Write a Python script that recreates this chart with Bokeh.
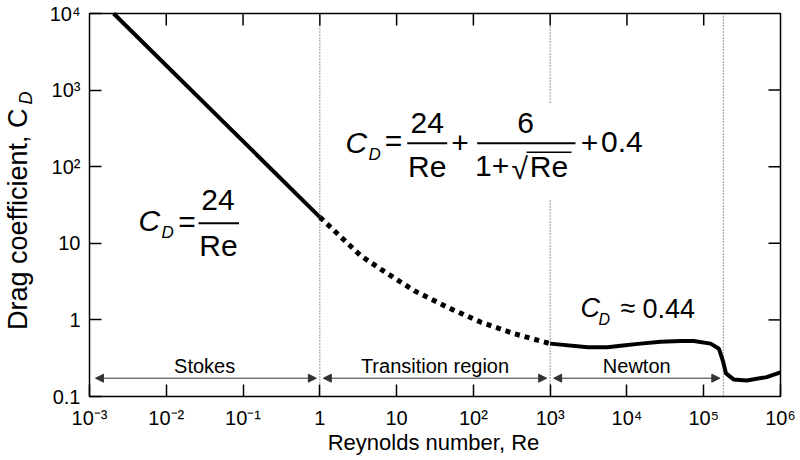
import math
from bokeh.plotting import figure
from bokeh.models import Label, Arrow, NormalHead, FixedTicker, Range1d
from bokeh.embed import file_html
from bokeh.resources import INLINE

# ---------------- data ----------------
stokes_re = [2.06e-3, 1.0]
stokes_cd = [1.0e4, 22.0]

trans_re = [1.0, 1.4, 3.4, 6.2, 17.0, 46.0, 126.0, 340.0, 1000.0]
trans_cd = [22.0, 16.0, 6.9, 4.6, 2.4, 1.46, 0.93, 0.66, 0.49]

newton_re = [1000, 3100, 5600, 8300, 15000, 27500, 50000, 74000, 123000,
             158000, 178000, 195000, 245000, 363000, 660000, 1000000]
newton_cd = [0.49, 0.44, 0.44, 0.46, 0.49, 0.52, 0.53, 0.53, 0.49,
             0.42, 0.29, 0.20, 0.167, 0.162, 0.179, 0.207]

region_names = ["Stokes", "Transition region", "Newton"]
region_bounds = [1e-3, 1.0, 1e3, 1.8e5]

x_ticks = [1e-3, 1e-2, 1e-1, 1.0, 10.0, 100.0, 1e3, 1e4, 1e5, 1e6]
x_tick_labels = ["10⁻³", "10⁻²", "10⁻¹", "1", "10", "10²", "10³", "10⁴", "10⁵", "10⁶"]
y_ticks = [0.1, 1.0, 10.0, 100.0, 1000.0, 10000.0]
y_tick_labels = ["0.1", "1", "10", "10²", "10³", "10⁴"]

FONT = "Liberation Sans"

# ---------------- geometry (pixels of the 800x460 canvas) ----------------
W, H = 800, 460
BOX_L, BOX_R, BOX_T, BOX_B = 89, 780, 13, 396      # plot box edges
XMIN, XMAX, YMIN, YMAX = 1e-3, 1e6, 0.1, 1e4
DX = (BOX_R - BOX_L) / (math.log10(XMAX) - math.log10(XMIN))
DY = (BOX_B - BOX_T) / (math.log10(YMAX) - math.log10(YMIN))

x_range = Range1d(10 ** (math.log10(XMIN) - BOX_L / DX),
                  10 ** (math.log10(XMAX) + (W - BOX_R) / DX))
y_range = Range1d(10 ** (math.log10(YMIN) - (H - BOX_B) / DY),
                  10 ** (math.log10(YMAX) + BOX_T / DY))

p = figure(width=W, height=H, x_axis_type="log", y_axis_type="log",
           x_range=x_range, y_range=y_range,
           output_backend="svg", toolbar_location=None,
           min_border=0, min_border_left=0, min_border_right=0,
           min_border_top=0, min_border_bottom=0)
p.title.visible = False
p.xgrid.visible = False
p.ygrid.visible = False
p.outline_line_color = None
p.background_fill_color = "white"
p.border_fill_color = "white"


def px2x(xi):
    return 10 ** (math.log10(XMIN) + (xi - BOX_L) / DX)


def px2y(yi):
    return 10 ** (math.log10(YMIN) + (BOX_B - yi) / DY)


def style_axis(ax, ticks, labels, loc, standoff):
    ax.fixed_location = loc
    ax.ticker = FixedTicker(ticks=ticks)
    ax.major_label_overrides = {t: l for t, l in zip(ticks, labels)}
    ax.major_tick_in = 12
    ax.major_tick_out = 0
    ax.minor_tick_in = 0
    ax.minor_tick_out = 0
    ax.axis_line_color = None
    ax.major_tick_line_width = 1.5
    ax.major_tick_line_color = "black"
    ax.major_label_text_font = FONT
    ax.major_label_text_font_size = "20px"
    ax.major_label_text_color = "black"
    ax.major_label_standoff = standoff


style_axis(p.xaxis[0], x_ticks, x_tick_labels, YMIN, 10)
style_axis(p.yaxis[0], y_ticks, y_tick_labels, XMIN, 9)

# plot box
p.quad(left=[XMIN], right=[XMAX], bottom=[YMIN], top=[YMAX],
       fill_color=None, line_color="black", line_width=1.5)

# inward ticks on the top and right edges
tick_len = 12
tx = x_ticks[1:-1]
p.segment(x0=tx, y0=[YMAX] * len(tx), x1=tx, y1=[px2y(BOX_T + tick_len)] * len(tx),
          line_color="black", line_width=1.5)
ty = y_ticks[1:-1]
p.segment(x0=[XMAX] * len(ty), y0=ty, x1=[px2x(BOX_R - tick_len)] * len(ty), y1=ty,
          line_color="black", line_width=1.5)

# ---------------- region boundaries (dotted verticals) ----------------
x0s, y0s, y1s = [], [], []
for b in region_bounds[1:]:
    if b == region_bounds[2]:
        x0s += [b, b]
        y0s += [px2y(26), px2y(200)]
        y1s += [px2y(102), YMIN]
    else:
        x0s.append(b)
        y0s.append(YMAX)
        y1s.append(YMIN)
p.segment(x0=x0s, y0=y0s, x1=x0s, y1=y1s, line_color="#333333",
          line_width=1, line_dash="1 2")

# ---------------- curve ----------------
p.line(stokes_re, stokes_cd, line_color="black", line_width=4)
p.line(trans_re, trans_cd, line_color="black", line_width=5, line_dash="5 5")
p.line(newton_re, newton_cd, line_color="black", line_width=4)

# baseline correction: rendered baseline sits ~K*size below the anchor
K = 0.38

# ---------------- region arrows & names ----------------
arrow_y = px2y(377.7)
for i, name in enumerate(region_names):
    lo, hi = region_bounds[i], region_bounds[i + 1]
    a0 = lo * 10 ** ((6 if i == 0 else 3.5) / DX)
    a1 = hi / 10 ** (3.5 / DX)
    hd = dict(size=8, fill_color="#333333", line_color="#333333")
    p.add_layout(Arrow(start=NormalHead(**hd), end=NormalHead(**hd),
                       x_start=a0, y_start=arrow_y, x_end=a1, y_end=arrow_y,
                       line_color="#333333", line_width=1))
    p.add_layout(Label(x=math.sqrt(lo * hi), y=H - (373 - K * 20),
                       x_units="data", y_units="screen",
                       text=name, text_font=FONT, text_font_size="20px",
                       text_align="center", text_baseline="alphabetic",
                       text_color="black"))


# ---------------- text helpers (canvas pixel coords, origin top-left) ----------------
def txt(xi, yi, s, size, align="left", italic=False, angle=0.0):
    if angle == 0.0:
        yi = yi - K * size
    else:
        xi = xi - K * size
    p.add_layout(Label(x=xi, y=H - yi, x_units="screen", y_units="screen",
                       text=s, text_font=FONT, text_font_size=f"{size}px",
                       text_font_style="italic" if italic else "normal",
                       text_align=align, text_baseline="alphabetic",
                       text_color="black", angle=angle))


def bar(x0, x1, yi, w=2.0):
    p.segment(x0=[px2x(x0)], y0=[px2y(yi)], x1=[px2x(x1)], y1=[px2y(yi)],
              line_color="black", line_width=w)


F = 30
# C_D = 24/Re
txt(138, 231, "C", F, italic=True)
txt(161, 238, "D", 17, italic=True)
txt(186.5, 232, "=", F, align="center")
txt(217.5, 211, "24", F, align="center")
bar(198, 238.5, 222.7)
txt(218, 256, "Re", F, align="center")

# transition formula
txt(345, 153, "C", F, italic=True)
txt(368, 160, "D", 17, italic=True)
txt(393, 151.5, "=", F, align="center")
txt(426.7, 133.5, "24", F, align="center")
bar(406.7, 446.7, 142.7)
txt(426.7, 177, "Re", F, align="center")
txt(459.5, 154, "+", F, align="center")
txt(525, 133.5, "6", F, align="center")
bar(476.7, 575, 142.7)
txt(474.5, 177, "1+", F)
txt(511, 179, "√", F)
bar(526, 571, 151.7, w=1.5)
txt(529.3, 177, "Re", F)
txt(589, 154, "+", F, align="center")
txt(600.5, 153, "0.4", F)

# Newton value
txt(580, 318, "C", 27, italic=True)
txt(598, 325, "D", 16, italic=True)
txt(627.5, 318, "≈", 27, align="center")
txt(642, 318, "0.44", 27)

# axis titles
txt(433, 450, "Reynolds number, Re", 22, align="center")
txt(28, 108, "Drag coefficient, C", 27, align="right", angle=math.pi / 2)
txt(32, 104, "D", 18, align="left", italic=True, angle=math.pi / 2)

open("out.html", "w").write(file_html(p, INLINE))
